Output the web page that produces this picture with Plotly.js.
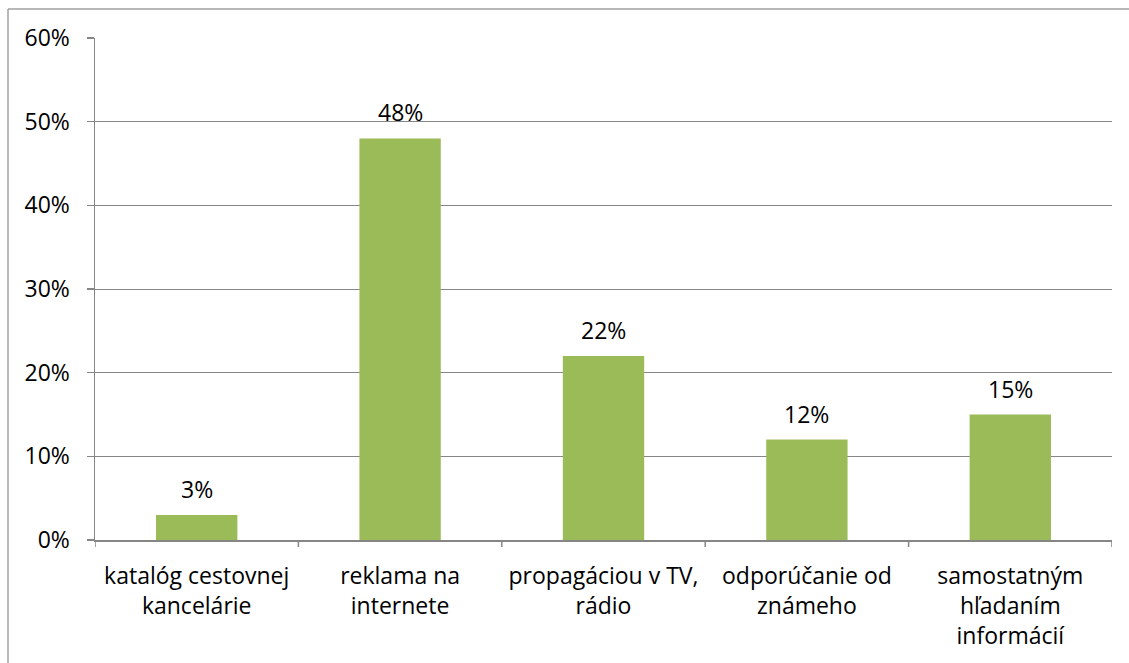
<!DOCTYPE html>
<html><head><meta charset="utf-8">
<script src="https://cdn.plot.ly/plotly-3.0.1.min.js"></script>
<style>html,body{margin:0;padding:0;background:#fff;}#chart{width:1129px;height:663px;}</style>
</head><body><div id="chart"></div>
<script>
const categories = ["katalóg cestovnej<br>kancelárie", "reklama na<br>internete", "propagáciou v TV,<br>rádio", "odporúčanie od<br>známeho", "samostatným<br>hľadaním<br>informácií"];
const values = [0.03, 0.48, 0.22, 0.12, 0.15];
const labels = ["3%", "48%", "22%", "12%", "15%"];
const yTicks = [0, 0.1, 0.2, 0.3, 0.4, 0.5, 0.6];
const yTickLabels = ["0%", "10%", "20%", "30%", "40%", "50%", "60%"];

const L = 95, R = 1129 - 1112, T = 38, B = 663 - 540;
const W = 1129 - L - R, H = 663 - T - B;
const font = {family: "Open Sans, Noto Sans, sans-serif", size: 23, color: "#000"};
const xs = [0, 1, 2, 3, 4];

Plotly.newPlot("chart", [{
  type: "bar",
  x: xs,
  y: values,
  marker: {color: "#9BBB59"},
  hoverinfo: "none"
}], {
  width: 1129, height: 663,
  margin: {l: L, r: R, t: T, b: B},
  paper_bgcolor: "#fff", plot_bgcolor: "#fff",
  bargap: 0.6,
  showlegend: false,
  font: font,
  xaxis: {
    range: [-0.5, 4.5], tickmode: "array", tickvals: xs, ticktext: categories,
    showgrid: false, zeroline: false, showline: true, linecolor: "#868686", linewidth: 1.5,
    ticks: "", tickfont: font, ticklabelstandoff: 15, fixedrange: true
  },
  yaxis: {
    range: [0, 0.6], tickmode: "array", tickvals: yTicks, ticktext: yTickLabels,
    showgrid: true, gridcolor: "#868686", gridwidth: 1, zeroline: false,
    showline: true, linecolor: "#868686", linewidth: 1.5,
    ticks: "outside", ticklen: 7, tickcolor: "#868686", tickwidth: 1.5,
    tickfont: font, ticklabelstandoff: 12, fixedrange: true
  },
  annotations: xs.map((x, i) => ({
    x: x, y: values[i], xref: "x", yref: "y", text: labels[i], showarrow: false,
    yanchor: "middle", yshift: 26, font: font
  })),
  shapes: [
    ...[0, 1, 2, 3, 4, 5].map(i => ({type: "line", xref: "x", yref: "paper", x0: i - 0.5, x1: i - 0.5, y0: 0, y1: -7 / H, line: {color: "#868686", width: 1.5}})),
    {type: "line", xref: "paper", yref: "paper", x0: (8 - L) / W, x1: (8 - L) / W, y0: (663 - 9 - B) / H, y1: (0 - B) / H, line: {color: "#A0A0A0", width: 1.5}},
    {type: "line", xref: "paper", yref: "paper", x0: (8 - L) / W, x1: (1129 - L) / W, y0: (663 - 9 - B) / H, y1: (663 - 9 - B) / H, line: {color: "#A0A0A0", width: 1.5}}
  ]
}, {staticPlot: true});
</script></body></html>
